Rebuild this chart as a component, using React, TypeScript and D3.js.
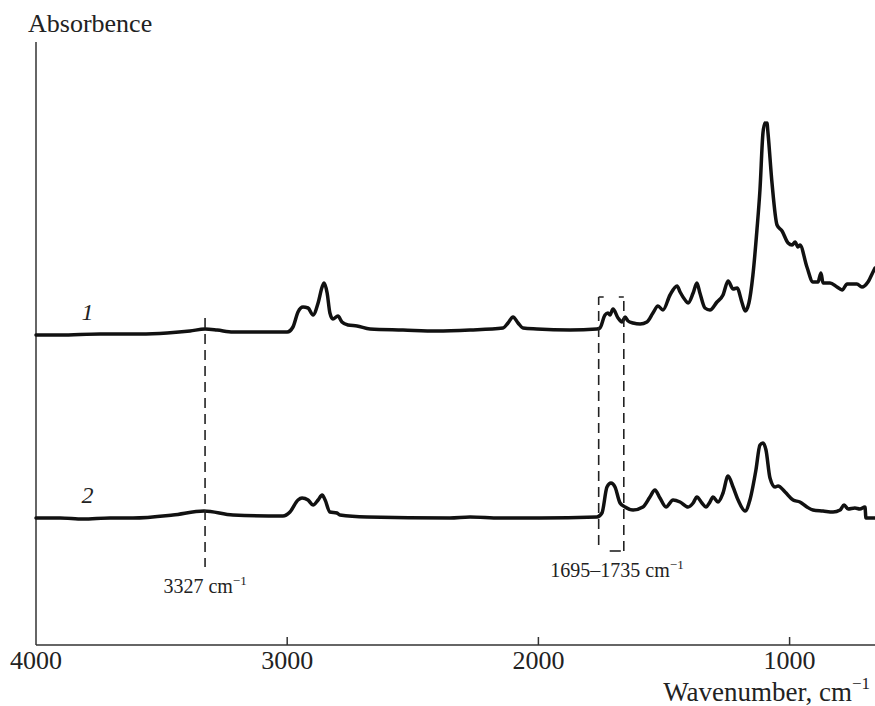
import React from "react";
import * as d3 from "d3";

// IR spectra: wavenumber (cm-1) and absorbance (arbitrary units, stacked)
const wavenumber1 = [
  4000, 3904, 3745, 3586, 3478, 3387, 3327, 3279, 3216, 3108, 3000, 2977, 2957, 2937, 2917,
  2897, 2877, 2861, 2853, 2841, 2830, 2818, 2798, 2782, 2758, 2722, 2670, 2539, 2404, 2272,
  2141, 2121, 2101, 2081, 2061, 2006, 1874, 1767, 1755, 1735, 1723, 1715, 1703, 1683, 1667,
  1655, 1643, 1623, 1595, 1568, 1544, 1524, 1504, 1476, 1448, 1436, 1416, 1404, 1384, 1369,
  1357, 1337, 1317, 1289, 1265, 1245, 1225, 1209, 1189, 1177, 1162, 1146, 1130, 1118, 1106,
  1098, 1094, 1090, 1086, 1070, 1050, 1030, 1006, 990, 978, 967, 959, 931, 907, 887, 875, 867,
  839, 811, 791, 771, 732, 712, 688, 668, 660,
];
const absorbance1 = [
  3.10, 3.10, 3.11, 3.11, 3.12, 3.14, 3.16, 3.15, 3.13, 3.13, 3.13, 3.18, 3.33, 3.38, 3.37,
  3.30, 3.42, 3.58, 3.62, 3.52, 3.32, 3.26, 3.29, 3.23, 3.20, 3.19, 3.16, 3.15, 3.14, 3.15,
  3.17, 3.22, 3.28, 3.22, 3.17, 3.16, 3.15, 3.16, 3.17, 3.30, 3.32, 3.30, 3.36, 3.27, 3.23,
  3.28, 3.24, 3.22, 3.21, 3.23, 3.32, 3.39, 3.35, 3.50, 3.59, 3.53, 3.45, 3.42, 3.52, 3.62,
  3.52, 3.37, 3.35, 3.43, 3.50, 3.64, 3.56, 3.57, 3.42, 3.34, 3.42, 3.70, 4.15, 4.55, 5.12,
  5.22, 5.21, 5.22, 5.12, 4.62, 4.20, 4.14, 4.02, 4.00, 4.03, 3.98, 4.00, 3.78, 3.63, 3.63, 3.72, 3.62,
  3.62, 3.58, 3.55, 3.61, 3.61, 3.58, 3.63, 3.73, 3.77,
];

const wavenumber2 = [
  4000, 3904, 3813, 3705, 3614, 3455, 3331, 3216, 3017, 2989, 2957, 2941, 2917, 2897, 2877,
  2861, 2849, 2830, 2802, 2790, 2682, 2352, 2272, 2153, 1994, 1767, 1747, 1727, 1711, 1695,
  1675, 1655, 1623, 1584, 1556, 1536, 1516, 1492, 1464, 1436, 1404, 1384, 1369, 1349, 1333,
  1317, 1305, 1285, 1265, 1245, 1225, 1205, 1177, 1158, 1134, 1118, 1106, 1094, 1078, 1058,
  1046, 1018, 986, 959, 931, 907, 867, 827, 799, 783, 767, 740, 720, 700, 696, 660,
];
const absorbance2 = [
  1.27, 1.27, 1.26, 1.27, 1.27, 1.30, 1.34, 1.30, 1.29, 1.33, 1.45, 1.47, 1.45, 1.40, 1.45,
  1.50, 1.45, 1.33, 1.32, 1.30, 1.28, 1.27, 1.28, 1.27, 1.27, 1.28, 1.32, 1.58, 1.62, 1.58,
  1.42, 1.38, 1.35, 1.38, 1.48, 1.55, 1.47, 1.38, 1.45, 1.43, 1.38, 1.42, 1.48, 1.42, 1.38,
  1.43, 1.48, 1.43, 1.52, 1.69, 1.58, 1.45, 1.34, 1.45, 1.75, 2.00, 2.02, 1.95, 1.67, 1.58,
  1.59, 1.53, 1.45, 1.43, 1.38, 1.35, 1.34, 1.33, 1.35, 1.40, 1.36, 1.37, 1.36, 1.38, 1.27, 1.27,
];

const xTicks = [4000, 3000, 2000, 1000];
const seriesLabels = ["1", "2"];
const labelPositions = [
  { w: 3795, a: 3.25 },
  { w: 3795, a: 1.42 },
];

// Annotation markers
const band3327 = { w: 3327, top: 3.27, bottom: 0.78, label: "3327" };
const bandCarbonyl = { wLeft: 1760, wRight: 1660, top: 3.48, bottomL: 1.0, bottomR: 0.94, label: "1695–1735" };

const W = 875;
const H = 706;
const left = 36;
const right = 875;
const axisY = 645;
const topY = 42;

export default function App() {
  const x = d3.scaleLinear().domain([4000, 660]).range([left, right]);
  const y = d3.scaleLinear().domain([0, 6.03]).range([axisY, topY]);

  const line = d3
    .line<[number, number]>()
    .x((d) => x(d[0]))
    .y((d) => y(d[1]))
    .curve(d3.curveMonotoneX);

  const s1 = wavenumber1.map((w, i) => [w, absorbance1[i]] as [number, number]);
  const s2 = wavenumber2.map((w, i) => [w, absorbance2[i]] as [number, number]);

  const font = "'Liberation Serif', 'Times New Roman', serif";
  const dash = "10,6";

  const bx0 = x(bandCarbonyl.wLeft);
  const bx1 = x(bandCarbonyl.wRight);

  return (
    <svg width={W} height={H} style={{ position: "absolute", left: 0, top: 0, background: "#fff", fontFamily: font }}>
      {/* axes */}
      <line x1={left} y1={topY} x2={left} y2={axisY} stroke="#333" strokeWidth={1.5} />
      <line x1={left} y1={axisY} x2={right} y2={axisY} stroke="#333" strokeWidth={1.5} />
      {xTicks.map((t) => (
        <g key={t}>
          {t !== 4000 && (
            <line x1={x(t)} x2={x(t)} y1={axisY} y2={axisY - 8} stroke="#333" strokeWidth={1.5} />
          )}
          <text x={x(t)} y={669} textAnchor="middle" fontSize={26} fill="#222" style={{ fontFamily: font }}>
            {t}
          </text>
        </g>
      ))}
      <text x={28} y={32} fontSize={26} fill="#222" style={{ fontFamily: font }}>
        Absorbence
      </text>
      <text x={870} y={701} textAnchor="end" fontSize={27} fill="#222" style={{ fontFamily: font }}>
        Wavenumber, cm
        <tspan fontSize={17} dy={-12}>−1</tspan>
      </text>

      {/* spectra */}
      <path d={line(s1) ?? ""} fill="none" stroke="#111" strokeWidth={3.5} strokeLinejoin="round" strokeLinecap="round" />
      <path d={line(s2) ?? ""} fill="none" stroke="#111" strokeWidth={3.5} strokeLinejoin="round" strokeLinecap="round" />

      {seriesLabels.map((lab, i) => (
        <text
          key={lab}
          x={x(labelPositions[i].w)}
          y={y(labelPositions[i].a)}
          fontSize={24}
          fontStyle="italic"
          fill="#222"
          textAnchor="middle"
          style={{ fontFamily: font }}
        >
          {lab}
        </text>
      ))}

      {/* 3327 cm-1 marker */}
      <line
        x1={x(band3327.w)}
        x2={x(band3327.w)}
        y1={y(band3327.top)}
        y2={y(band3327.bottom)}
        stroke="#222"
        strokeWidth={1.6}
        strokeDasharray={dash}
      />
      <text x={x(band3327.w)} y={593} textAnchor="middle" fontSize={20} fill="#222" style={{ fontFamily: font }}>
        {band3327.label} cm
        <tspan fontSize={13} dy={-8}>−1</tspan>
      </text>

      {/* carbonyl band box */}
      <path
        d={`M${bx0},${y(bandCarbonyl.bottomL)} V${y(bandCarbonyl.top)}`}
        fill="none"
        stroke="#222"
        strokeWidth={1.6}
        strokeDasharray={dash}
      />
      <path
        d={`M${bx1},${y(bandCarbonyl.bottomR)} V${y(bandCarbonyl.top)}`}
        fill="none"
        stroke="#222"
        strokeWidth={1.6}
        strokeDasharray={dash}
      />
      <path
        d={`M${bx0},${y(bandCarbonyl.top)} H${bx0 + 5} M${bx1 - 5},${y(bandCarbonyl.top)} H${bx1}`}
        fill="none"
        stroke="#222"
        strokeWidth={1.6}
      />
      <path
        d={`M${bx0 + 11},${y(bandCarbonyl.bottomR)} H${bx1 - 3}`}
        fill="none"
        stroke="#222"
        strokeWidth={1.6}
      />
      <text x={617} y={577} textAnchor="middle" fontSize={20} fill="#222" style={{ fontFamily: font }}>
        {bandCarbonyl.label} cm
        <tspan fontSize={13} dy={-8}>−1</tspan>
      </text>
    </svg>
  );
}
